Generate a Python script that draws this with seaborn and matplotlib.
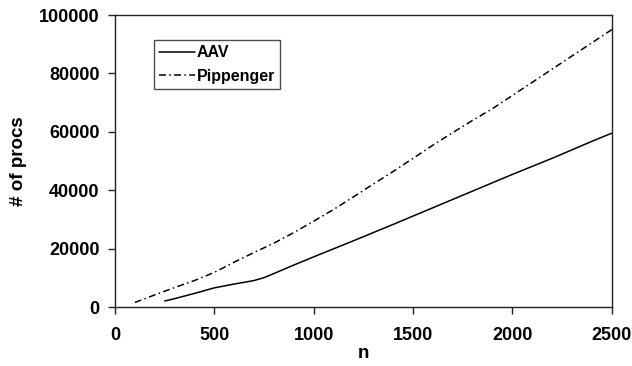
import matplotlib
matplotlib.use("Agg")
import matplotlib.pyplot as plt
import seaborn as sns
import pandas as pd

aav_n = [250, 300, 400, 500, 600, 700, 750, 800, 900, 1000, 1200, 1400, 1600,
         1800, 2000, 2200, 2400, 2500]
aav_procs = [2200, 3000, 4800, 6700, 8000, 9200, 10200, 11600, 14500, 17300,
             22800, 28400, 34100, 39800, 45500, 51000, 56800, 59600]

pip_n = [100, 200, 300, 400, 500, 600, 700, 800, 900, 1000, 1100, 1200, 1300,
         1400, 1500, 1600, 1700, 1800, 1900, 2000, 2100, 2200, 2300, 2400, 2500]
pip_procs = [1700, 4300, 6800, 9200, 12000, 15500, 18800, 22000, 25600, 29500,
             33500, 37800, 42200, 46500, 51000, 55500, 59800, 64000, 68000,
             72500, 77000, 81500, 86000, 90500, 95000]

x_ticks = [0, 500, 1000, 1500, 2000, 2500]
y_ticks = [0, 20000, 40000, 60000, 80000, 100000]

sns.set_theme(style="ticks", rc={"text.color": "black", "axes.labelcolor": "black",
                                 "xtick.color": "black", "ytick.color": "black",
                                 "axes.edgecolor": "black"})
plt.rcParams['font.family'] = ['Liberation Sans', 'DejaVu Sans']

df = pd.concat([
    pd.DataFrame({"n": aav_n, "procs": aav_procs, "series": "AAV"}),
    pd.DataFrame({"n": pip_n, "procs": pip_procs, "series": "Pippenger"}),
])

fig = plt.figure(figsize=(6.32, 3.66), dpi=100)
ax = fig.add_axes([0.182, 0.160, 0.786, 0.799])

sns.lineplot(data=df, x="n", y="procs", hue="series", style="series",
             palette={"AAV": "black", "Pippenger": "black"},
             dashes={"AAV": "", "Pippenger": (4.5, 2.2, 1.0, 2.2)},
             linewidth=1.1, ax=ax)

ax.set_xlim(0, 2500)
ax.set_ylim(0, 100000)
ax.set_xticks(x_ticks)
ax.set_yticks(y_ticks)
ax.set_xticklabels([str(t) for t in x_ticks], fontsize=13, fontweight="bold")
ax.set_yticklabels([str(t) for t in y_ticks], fontsize=13, fontweight="bold")
ax.set_xlabel("n", fontsize=13.5, fontweight="bold", labelpad=0.5)
ax.set_ylabel("# of procs", fontsize=13.5, fontweight="bold", labelpad=9)
for s in ax.spines.values():
    s.set_visible(True)
    s.set_color("#222222")
    s.set_linewidth(1.0)
ax.tick_params(axis="x", length=5, width=1, color="#222222", labelcolor="black", pad=9)
ax.tick_params(axis="y", length=5, width=1, color="#222222", labelcolor="black", pad=6)

leg = ax.legend(loc="upper left", bbox_to_anchor=(0.078, 0.913), fontsize=11.5,
                frameon=True, fancybox=False, edgecolor="#222222",
                handlelength=2.3, handletextpad=0.1, borderpad=0.3,
                labelspacing=0.55, borderaxespad=0)
leg.get_frame().set_linewidth(1.0)
for t in leg.get_texts():
    t.set_fontweight("bold")
    t.set_color("black")

fig.savefig("out.png", dpi=100)
